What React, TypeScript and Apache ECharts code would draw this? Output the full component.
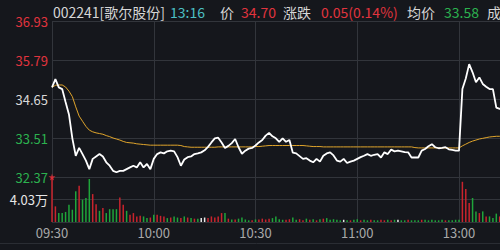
import React, { useEffect, useRef } from "react";
import * as echarts from "echarts";

const prevClose = 34.65;
const timeLabels = ["09:30", "10:00", "10:30", "11:00", "13:00"];
const priceTicks = [32.37, 33.51, 34.65, 35.79, 36.93];
const volTicks = [0, 4.03, 8.06];

// one value per minute from 09:30 (index 0) to 13:16 (index 136)
const prices = [
  34.99, 35.23, 34.99, 34.94, 34.56, 34.2, 33.5, 32.99, 33.22, 33.04,
  32.85, 32.6, 32.9, 32.97, 33.04, 32.97, 32.8, 32.7, 32.55, 32.51,
  32.55, 32.55, 32.6, 32.65, 32.7, 32.65, 32.8, 32.65, 32.75, 32.6,
  32.9, 33.04, 33.09, 33.06, 33.12, 33.14, 33.12, 32.95, 32.7, 32.88,
  32.95, 32.97, 33.04, 33.06, 33.09, 33.15, 33.25, 33.38, 33.5, 33.52,
  33.38, 33.22, 33.28, 33.36, 33.48, 33.24, 33.05, 33.14, 33.2, 33.22,
  33.29, 33.38, 33.45, 33.58, 33.66, 33.56, 33.5, 33.4, 33.5, 33.4,
  33.45, 33.08, 33.06, 32.98, 32.9, 32.92, 32.85, 32.8, 32.9, 32.82,
  32.99, 33.06, 33.09, 33.0, 32.85, 32.82, 32.9, 32.78, 32.82, 32.85,
  32.9, 32.95, 32.99, 33.04, 32.99, 33.02, 33.04, 32.94, 33.09, 33.04,
  33.17, 33.12, 33.14, 33.12, 33.1, 33.09, 32.94, 32.94, 32.94, 33.14,
  33.19, 33.27, 33.33, 33.24, 33.21, 33.22, 33.24, 33.18, 33.16, 33.14,
  33.14, 34.94, 35.25, 35.67, 35.43, 35.14, 35.28, 35.09, 35.01, 34.94,
  34.94, 34.4, 34.36, 34.36, 34.55, 34.65, 34.7,
];

const avgPrices = [
  34.99, 35.05, 35.06, 35.06, 35.0, 34.88, 34.72, 34.42, 34.15, 34.0,
  33.85, 33.74, 33.69, 33.66, 33.64, 33.62, 33.58, 33.55, 33.51, 33.48,
  33.45, 33.41, 33.38, 33.37, 33.36, 33.34, 33.33, 33.32, 33.31, 33.3,
  33.3, 33.3, 33.3, 33.3, 33.3, 33.3, 33.3, 33.3, 33.29, 33.26,
  33.25, 33.24, 33.24, 33.24, 33.24, 33.24, 33.24, 33.24, 33.24, 33.25,
  33.25, 33.25, 33.25, 33.25, 33.25, 33.25, 33.25, 33.25, 33.25, 33.25,
  33.26, 33.26, 33.27, 33.28, 33.29, 33.29, 33.29, 33.29, 33.29, 33.29,
  33.29, 33.29, 33.29, 33.29, 33.29, 33.28, 33.27, 33.26, 33.26, 33.26,
  33.25, 33.25, 33.25, 33.25, 33.25, 33.25, 33.25, 33.25, 33.25, 33.25,
  33.25, 33.25, 33.25, 33.25, 33.25, 33.25, 33.25, 33.25, 33.25, 33.25,
  33.25, 33.25, 33.25, 33.25, 33.25, 33.25, 33.25, 33.23, 33.22, 33.22,
  33.22, 33.22, 33.22, 33.22, 33.22, 33.22, 33.22, 33.22, 33.22, 33.22,
  33.22, 33.28, 33.33, 33.38, 33.42, 33.45, 33.48, 33.5, 33.52, 33.54,
  33.55, 33.56, 33.56, 33.57, 33.57, 33.58, 33.58,
];

// volume in 万手
const volumes = [
  8.06, 2.8, 1.6, 1.6, 1.8, 3.1, 2.2, 5.5, 6.5, 4.0,
  4.3, 7.7, 5.0, 3.2, 2.0, 2.5, 1.6, 2.3, 2.3, 2.3,
  4.4, 3.1, 2.0, 1.3, 1.6, 1.0, 1.1, 1.0, 0.7, 0.8,
  1.3, 1.3, 1.1, 1.0, 0.7, 0.8, 1.0, 0.8, 0.7, 1.0,
  0.8, 0.7, 0.6, 0.6, 0.7, 0.8, 0.7, 1.0, 0.8, 1.0,
  1.6, 1.6, 0.6, 0.45, 0.45, 0.6, 0.8, 0.45, 0.3, 0.3,
  0.45, 0.45, 0.6, 0.45, 0.6, 0.7, 1.0, 0.5, 0.4, 0.4,
  0.5, 0.8, 0.4, 0.5, 0.3, 0.6, 0.4, 0.5, 0.3, 0.5,
  0.6, 0.7, 0.4, 0.5, 0.4, 0.3, 0.4, 0.3, 0.3, 0.4,
  0.5, 0.3, 0.4, 0.3, 0.4, 0.3, 0.3, 0.4, 0.3, 0.4,
  0.3, 0.4, 0.4, 0.3, 0.3, 0.4, 0.3, 0.3, 0.3, 0.4,
  0.4, 0.3, 0.4, 0.3, 0.3, 0.4, 0.3, 0.3, 0.3, 0.4,
  0.4, 7.2, 5.9, 3.4, 4.3, 1.9, 1.6, 1.9, 1.0, 1.0,
  0.7, 1.5, 1.0, 1.2, 0.9, 1.0, 0.8,
];

// 1 = up (red), -1 = down (green), 0 = flat (white)
const volDir = [
  1, 1, -1, -1, -1, -1, -1, -1, 1, -1,
  -1, -1, 1, 1, -1, 1, -1, -1, -1, -1,
  1, 1, -1, 1, 1, 1, 1, -1, -1, 1,
  -1, 1, 1, 1, -1, 1, -1, -1, 1, -1,
  1, -1, 1, -1, 0, 0, 1, 1, 1, 1,
  1, -1, 1, -1, 1, -1, -1, -1, -1, 1,
  -1, 1, 1, 1, 1, -1, -1, -1, -1, 1,
  1, -1, -1, 1, 1, -1, 1, -1, 1, -1,
  1, -1, -1, -1, -1, -1, 0, -1, 1, -1,
  -1, 1, -1, -1, 1, -1, -1, 1, 1, -1,
  1, -1, 0, -1, -1, 1, -1, -1, -1, 1,
  -1, -1, -1, -1, -1, -1, 1, -1, -1, -1,
  -1, 1, 1, 1, -1, -1, 1, -1, 1, -1,
  -1, -1, 1, -1, 1, 1, 1,
];

const RED = "#e0343e";
const GREEN = "#2cb24f";
const BAR_RED = "#c9242d";
const BAR_GREEN = "#1fa53a";
const BG = "#15171c";
const GRID = "#32353b";
const FONT = "'Noto Sans CJK SC', 'Noto Sans', sans-serif";
const STAR = "path://M50,0 L61,35 L98,35 L68,57 L79,91 L50,70 L21,91 L32,57 L2,35 L39,35 Z";

export default function App() {
  const ref = useRef<HTMLDivElement>(null);
  useEffect(() => {
    document.body.style.margin = "0";
    document.body.style.overflow = "hidden";
    const chart = echarts.init(ref.current!, null, { renderer: "svg" });
    const priceData = prices.map((p, i) => [i, +(p - prevClose).toFixed(4)]);
    const avgData = avgPrices.map((p, i) => [i, +(p - prevClose).toFixed(4)]);
    const volData = volumes.map((v, i) => ({
      value: [i, v],
      itemStyle: { color: volDir[i] > 0 ? BAR_RED : volDir[i] < 0 ? BAR_GREEN : "#e8e8e8" },
    }));
    const range = priceTicks[4] - prevClose;
    const step = priceTicks[4] - priceTicks[3];
    const hdr = (x: number, text: string, color: string) => ({
      type: "text",
      x,
      y: 12,
      style: { text, fill: color, font: `14px ${FONT}`, textVerticalAlign: "middle" },
    });
    chart.setOption({
      animation: false,
      backgroundColor: BG,
      grid: [
        { left: 52, top: 21, width: 814, height: 156 },
        { left: 52, top: 177, width: 814, height: 45 },
      ],
      xAxis: [
        {
          type: "value", gridIndex: 0, min: 0, max: 240, interval: 30,
          axisLine: { show: false }, axisTick: { show: false }, axisLabel: { show: false },
          splitLine: { show: true, lineStyle: { color: GRID, width: 1 } },
        },
        {
          type: "value", gridIndex: 1, min: 0, max: 240, interval: 30,
          axisLine: { show: false }, axisTick: { show: false },
          axisLabel: {
            show: true, color: "#a9a9a9", fontSize: 13, fontFamily: FONT, margin: 4,
            formatter: (v: number) => timeLabels[Math.round(v / 30)] ?? "",
          },
          splitLine: { show: true, lineStyle: { color: GRID, width: 1 } },
        },
      ],
      yAxis: [
        {
          type: "value", gridIndex: 0, min: -range, max: range, interval: step,
          axisLine: { show: false }, axisTick: { show: false },
          splitLine: { show: true, lineStyle: { color: GRID, width: 1 } },
          axisLabel: {
            margin: 4, fontSize: 13, fontFamily: FONT,
            formatter: (v: number) => {
              const s = (v + prevClose).toFixed(2);
              if (Math.abs(v) < 1e-6) return `{eq|${s}}`;
              return v > 0 ? `{up|${s}}` : `{dn|${s}}`;
            },
            rich: {
              up: { color: RED, fontSize: 13, fontFamily: FONT },
              dn: { color: GREEN, fontSize: 13, fontFamily: FONT },
              eq: { color: "#d8d8d8", fontSize: 13, fontFamily: FONT },
            },
          },
        },
        {
          type: "value", gridIndex: 1, min: volTicks[0], max: volTicks[2], interval: volTicks[1],
          axisLine: { show: false }, axisTick: { show: false },
          splitLine: { show: true, lineStyle: { color: GRID, width: 1 } },
          axisLabel: {
            margin: 4, fontSize: 13, fontFamily: FONT, color: "#e6e6e6",
            formatter: (v: number) => (Math.abs(v - volTicks[1]) < 1e-6 ? `${volTicks[1].toFixed(2)}万` : ""),
          },
        },
      ],
      series: [
        {
          type: "bar", xAxisIndex: 1, yAxisIndex: 1, data: volData, barWidth: 1.5,
        },
        {
          type: "scatter", xAxisIndex: 1, yAxisIndex: 1, data: [[0, volumes[0]]],
          symbol: STAR, symbolSize: 7, itemStyle: { color: "#e8303a" }, z: 5,
        },
        {
          type: "line", xAxisIndex: 0, yAxisIndex: 0, data: avgData, showSymbol: false,
          lineStyle: { color: "#e0a52c", width: 1 }, z: 3,
        },
        {
          type: "line", xAxisIndex: 0, yAxisIndex: 0, data: priceData, showSymbol: false,
          lineStyle: { color: "#ffffff", width: 1.8 }, z: 4,
        },
      ],
      graphic: [
        { type: "line", shape: { x1: 0, y1: 243.5, x2: 900, y2: 243.5 }, style: { stroke: "#2a2d33", lineWidth: 1 } },
        hdr(53, "002241[歌尔股份]", "#d6d6d6"),
        hdr(170, "13:16", "#4cc0c4"),
        hdr(220, "价", "#d6d6d6"),
        hdr(241, "34.70", RED),
        hdr(283, "涨跌", "#d6d6d6"),
        hdr(321, "0.05(0.14%)", RED),
        hdr(407, "均价", "#d6d6d6"),
        hdr(444, "33.58", GREEN),
        hdr(487, "成", "#d6d6d6"),
      ],
    });
    return () => chart.dispose();
  }, []);
  return <div ref={ref} style={{ position: "fixed", left: 0, top: 0, width: 900, height: 250 }} />;
}
